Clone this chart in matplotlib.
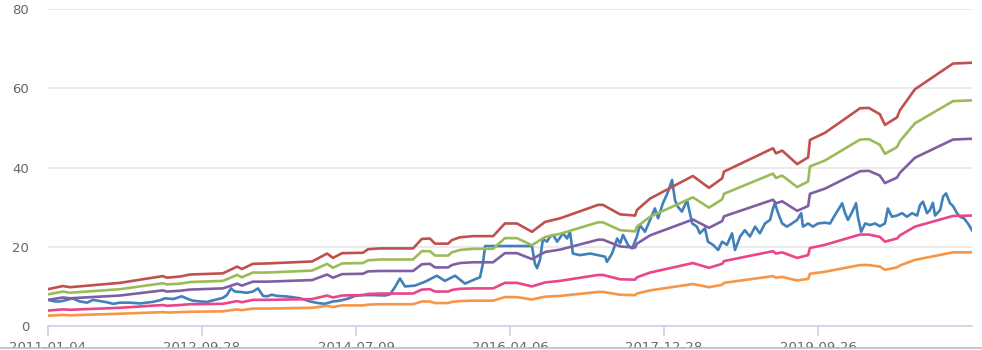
import matplotlib
matplotlib.use("Agg")
import matplotlib.pyplot as plt
from matplotlib.lines import Line2D
from matplotlib.patches import Rectangle

# ---------------- data ----------------
tick_labels = ["2011-01-04", "2012-09-28", "2014-07-09", "2016-04-06", "2017-12-28", "2019-09-26"]
label_interval = 421          # trading days between x labels
n_days = 2527                 # number of trading days (categories)

# closing price (trading-day index, value)
price_idx = [0, 19, 33, 52, 66, 87, 107, 123, 142, 161, 178, 197, 224, 252, 287, 306, 320, 342, 366, 383,
             396, 416, 435, 457, 478, 489, 500, 511, 525, 544, 560, 574, 588, 599, 612, 626, 648, 667, 689, 716,
             738, 757, 779, 798, 820, 839, 858, 875, 894, 921, 935, 949, 962, 976, 1003, 1031, 1063, 1085, 1113, 1140,
             1167, 1181, 1189, 1195, 1323, 1331, 1337, 1345, 1353, 1364, 1372, 1381, 1392, 1408, 1419, 1427, 1435, 1454, 1482, 1509,
             1523, 1528, 1542, 1556, 1564, 1572, 1586, 1597, 1610, 1618, 1632, 1646, 1659, 1668, 1681, 1695, 1706, 1714, 1722, 1733,
             1747, 1761, 1774, 1782, 1796, 1804, 1818, 1832, 1843, 1856, 1870, 1878, 1892, 1905, 1919, 1933, 1946, 1960, 1974, 1982,
             1987, 1996, 2007, 2020, 2034, 2048, 2059, 2064, 2078, 2091, 2105, 2124, 2138, 2146, 2160, 2171, 2179, 2187, 2201, 2209,
             2214, 2223, 2234, 2247, 2261, 2274, 2288, 2296, 2307, 2321, 2335, 2348, 2362, 2376, 2384, 2392, 2403, 2411, 2419, 2425,
             2439, 2447, 2455, 2466, 2474, 2485, 2493, 2504, 2515, 2526]
price = [6.6, 6.2, 6.2, 6.6, 7.0, 6.2, 5.9, 6.6, 6.3, 6.0, 5.6, 5.9, 5.9, 5.7, 6.1, 6.5, 7.0, 6.8, 7.5, 6.8,
         6.4, 6.2, 6.1, 6.6, 7.1, 7.8, 9.5, 8.7, 8.6, 8.4, 8.7, 9.5, 7.6, 7.5, 7.9, 7.6, 7.5, 7.3, 7.0, 6.2,
         5.8, 5.6, 6.2, 6.4, 6.9, 7.6, 7.8, 7.8, 7.8, 7.7, 8.0, 9.9, 12.0, 10.0, 10.2, 11.2, 12.7, 11.4, 12.7, 10.7,
         11.8, 12.3, 15.8, 20.2, 20.2, 15.8, 14.6, 16.7, 22.0, 21.3, 22.5, 23.0, 21.3, 23.4, 22.1, 23.8, 18.3, 17.9, 18.3, 17.8,
         17.5, 16.2, 18.3, 22.1, 20.9, 23.0, 20.4, 19.6, 22.6, 25.5, 23.8, 26.8, 29.7, 27.2, 31.0, 33.9, 36.9, 31.8, 30.1, 28.9,
         31.8, 25.9, 25.1, 23.4, 24.7, 21.3, 20.5, 19.2, 21.3, 20.5, 23.4, 19.2, 22.6, 24.2, 22.6, 25.1, 23.4, 25.9, 26.8, 29.7,
         31.0, 28.5, 25.9, 25.1, 25.9, 26.8, 28.5, 25.1, 25.9, 25.1, 25.9, 26.1, 25.9, 27.2, 29.3, 31.0, 28.5, 26.8, 29.3, 31.0,
         27.6, 23.8, 25.9, 25.5, 25.9, 25.2, 25.9, 29.7, 27.6, 27.9, 28.5, 27.6, 28.5, 27.9, 30.6, 31.4, 28.5, 29.3, 31.1, 27.9,
         29.3, 32.7, 33.5, 31.0, 30.3, 28.5, 27.6, 27.2, 25.9, 24.2]

# PE-band lines (shared trading-day breakpoints)
band_idx = [0, 41, 60, 197, 314, 325, 361, 388, 478, 517, 530, 560, 599, 722, 763, 779, 804, 861, 875, 908,
            998, 1022, 1044, 1058, 1094, 1104, 1126, 1162, 1217, 1249, 1282, 1323, 1359, 1400, 1504, 1517, 1564, 1605, 1610, 1646,
            1763, 1807, 1843, 1848, 1982, 1990, 2007, 2048, 2078, 2083, 2124, 2220, 2244, 2274, 2288, 2321, 2329, 2370, 2474, 2526]
band_red = [9.3, 10.1, 9.8, 10.9, 12.6, 12.2, 12.5, 13.0, 13.3, 15.0, 14.4, 15.7, 15.8, 16.3, 18.3, 17.2, 18.4, 18.5, 19.4, 19.6,
            19.6, 22.0, 22.1, 20.8, 20.8, 21.7, 22.4, 22.7, 22.7, 25.9, 25.9, 23.8, 26.3, 27.2, 30.6, 30.6, 28.2, 27.9, 29.3, 32.2,
            37.9, 34.9, 37.3, 39.0, 44.9, 43.6, 44.3, 40.9, 42.6, 47.0, 48.8, 55.0, 55.1, 53.5, 50.8, 52.7, 54.5, 59.8, 66.3, 66.5]
band_green = [8.0, 8.7, 8.4, 9.3, 10.8, 10.5, 10.7, 11.1, 11.4, 12.9, 12.3, 13.5, 13.5, 14.0, 15.7, 14.7, 15.8, 15.9, 16.6, 16.8,
              16.8, 18.9, 18.9, 17.8, 17.8, 18.6, 19.2, 19.5, 19.5, 22.2, 22.2, 20.4, 22.5, 23.3, 26.2, 26.2, 24.2, 23.9, 25.1, 27.6,
              32.5, 29.9, 32.0, 33.4, 38.5, 37.4, 38.0, 35.1, 36.5, 40.3, 41.8, 47.1, 47.2, 45.8, 43.5, 45.2, 46.7, 51.2, 56.8, 57.0]
band_purple = [6.6, 7.2, 7.0, 7.7, 9.0, 8.7, 8.9, 9.2, 9.5, 10.7, 10.2, 11.2, 11.2, 11.6, 13.0, 12.2, 13.1, 13.2, 13.8, 13.9,
               13.9, 15.6, 15.7, 14.8, 14.8, 15.4, 15.9, 16.1, 16.1, 18.4, 18.4, 16.9, 18.7, 19.3, 21.8, 21.8, 20.1, 19.8, 20.8, 22.9,
               26.9, 24.8, 26.5, 27.7, 31.9, 31.0, 31.5, 29.1, 30.3, 33.4, 34.7, 39.1, 39.2, 38.0, 36.1, 37.5, 38.7, 42.5, 47.1, 47.3]
band_pink = [3.9, 4.2, 4.1, 4.6, 5.3, 5.1, 5.3, 5.5, 5.6, 6.3, 6.0, 6.6, 6.6, 6.8, 7.7, 7.2, 7.7, 7.8, 8.1, 8.2,
             8.2, 9.2, 9.3, 8.7, 8.7, 9.1, 9.4, 9.5, 9.5, 10.9, 10.9, 10.0, 11.0, 11.4, 12.9, 12.9, 11.8, 11.7, 12.3, 13.5,
             15.9, 14.7, 15.7, 16.4, 18.9, 18.3, 18.6, 17.2, 17.9, 19.7, 20.5, 23.1, 23.1, 22.5, 21.3, 22.1, 22.9, 25.1, 27.8, 27.9]
band_orange = [2.6, 2.8, 2.7, 3.1, 3.5, 3.4, 3.5, 3.6, 3.7, 4.2, 4.0, 4.4, 4.4, 4.6, 5.1, 4.8, 5.2, 5.2, 5.4, 5.5,
               5.5, 6.2, 6.2, 5.8, 5.8, 6.1, 6.3, 6.4, 6.4, 7.3, 7.3, 6.7, 7.4, 7.6, 8.6, 8.6, 7.9, 7.8, 8.2, 9.0,
               10.6, 9.8, 10.4, 10.9, 12.6, 12.2, 12.4, 11.5, 11.9, 13.2, 13.7, 15.4, 15.4, 15.0, 14.2, 14.8, 15.3, 16.7, 18.6, 18.6]

y_ticks = [0, 20, 40, 60, 80]

# ---------------- figure ----------------
W, H = 982, 350
fig = plt.figure(figsize=(W / 100, H / 100), dpi=100)
ax = fig.add_axes([48 / W, (H - 326) / H, (972 - 48) / W, (326 - 9.3) / H])

lw = 1.9
ax.plot(price_idx, price, color="#4180bb", lw=lw, zorder=3, solid_joinstyle="round")
for vals, col in [(band_orange, "#F79646"), (band_pink, "#E9468A"), (band_purple, "#7F5FA3"),
                  (band_green, "#9BBB59"), (band_red, "#C0504D")]:
    ax.plot(band_idx, vals, color=col, lw=lw, zorder=4, solid_joinstyle="round")

ax.set_xlim(0, n_days - 1)
ax.set_ylim(y_ticks[0], y_ticks[-1])
ax.set_yticks(y_ticks)
ax.set_xticks([i * label_interval for i in range(len(tick_labels))])
ax.set_xticklabels(tick_labels)

ax.grid(axis="y", color="#E6E6E6", lw=1.2, zorder=0)
ax.set_axisbelow(True)
for s in ["top", "right", "left"]:
    ax.spines[s].set_visible(False)
ax.spines["bottom"].set_color("#C9D3E6")
ax.spines["bottom"].set_linewidth(1.2)
ax.spines["bottom"].set_zorder(1)

ax.tick_params(axis="y", length=0, pad=13.5, labelsize=9.5, labelcolor="#666666")
ax.tick_params(axis="x", length=7, width=1.2, color="#C9D3E6", pad=4, labelsize=9.5, labelcolor="#666666")

# bottom frame line cutting the labels
fig.add_artist(Rectangle((0, 0), 1, 2.5 / H, transform=fig.transFigure, facecolor="white",
                         edgecolor="none", zorder=20))
fig.add_artist(Line2D([0, 1], [2.5 / H, 2.5 / H], transform=fig.transFigure, color="#BDBDBD",
                      lw=1.2, zorder=21))

fig.savefig("out.png", dpi=100)
